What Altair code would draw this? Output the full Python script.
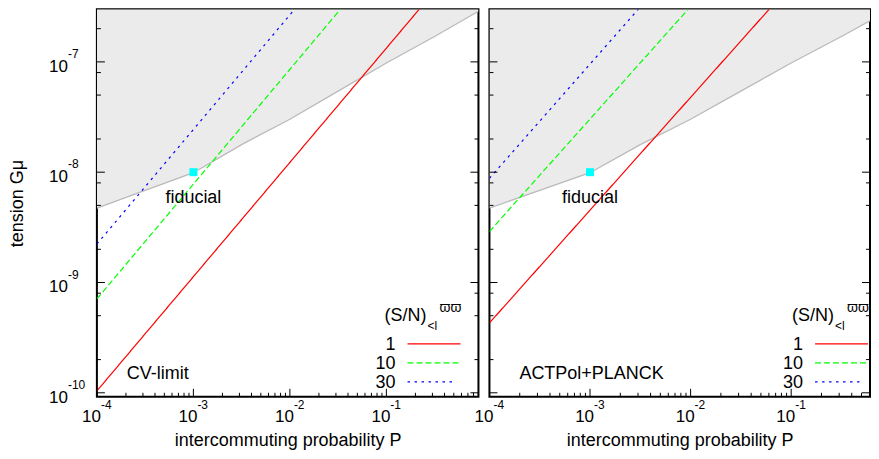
import altair as alt
import pandas as pd

FONT = "Liberation Sans"

# ---------------- data ----------------
series = ["1", "10", "30"]
series_colors = ["#ff0000", "#00ff00", "#0000ff"]
series_dash = [[1, 0], [6, 3], [2.5, 4.5]]

# CV-limit panel: end points of the S/N iso-lines (P, Gmu)
cv_P = {"1": [1e-4, 0.219], "10": [1e-4, 0.0334], "30": [1e-4, 0.0112]}
cv_G = {"1": [1.04e-10, 3e-7], "10": [7.1e-10, 3e-7], "30": [2.23e-9, 3e-7]}
# ACTPol+PLANCK panel
act_P = {"1": [1e-4, 0.0604], "10": [1e-4, 0.00946], "30": [1e-4, 0.00302]}
act_G = {"1": [4.3e-10, 3e-7], "10": [2.9e-9, 3e-7], "30": [8.8e-9, 3e-7]}

# excluded (grey) region boundary
bound_P = [1e-4, 3.16e-4, 1e-3, 3.16e-3, 1e-2, 3.16e-2, 0.1, 0.316, 0.9]
bound_G = [4.73e-9, 6.84e-9, 9.89e-9, 1.78e-8, 3.02e-8, 5.43e-8, 9.77e-8, 1.70e-7, 2.88e-7]

fid_P = [1e-3]
fid_G = [1e-8]
fid_label = ["fiducial"]

panel_labels = ["CV-limit", "ACTPol+PLANCK"]
legend_title = ["(S/N)", "<l", "ϖϖ"]

x_major = [1e-4, 1e-3, 1e-2, 1e-1]
x_base = ["10", "10", "10", "10"]
x_exp = ["-4", "-3", "-2", "-1"]
x_minor = [2e-4, 3e-4, 4e-4, 5e-4, 6e-4, 7e-4, 8e-4, 9e-4,
           2e-3, 3e-3, 4e-3, 5e-3, 6e-3, 7e-3, 8e-3, 9e-3,
           2e-2, 3e-2, 4e-2, 5e-2, 6e-2, 7e-2, 8e-2, 9e-2,
           0.2, 0.3, 0.4, 0.5, 0.6, 0.7, 0.8, 0.9]
y_major = [1e-10, 1e-9, 1e-8, 1e-7]
y_base = ["10", "10", "10", "10"]
y_exp = ["-10", "-9", "-8", "-7"]
y_minor = [2e-10, 5e-10, 8e-10, 2e-9, 5e-9, 8e-9, 2e-8, 5e-8, 8e-8, 2e-7]

XDOM_L = [1e-4, 0.9]
XDOM_R = [1e-4, 0.6075]   # right panel is cut by the page edge
YDOM = [9.2e-11, 3e-7]
H = 388
WL = 382
WR = 381


def panel(W, xdom, lineP, lineG, tag, show_y, lg0):
    xs = alt.Scale(type="log", domain=xdom, nice=False)
    ys = alt.Scale(type="log", domain=YDOM, nice=False)
    xaxis = alt.Axis(title="intercommuting probability P", labels=False, ticks=False,
                     domain=False, grid=False, minExtent=28, maxExtent=28, titlePadding=7)
    yaxis = (alt.Axis(title="tension Gμ", labels=False, ticks=False, domain=False,
                      grid=False, minExtent=60, maxExtent=60, titlePadding=10)
             if show_y else None)
    X = lambda f: alt.X(f, scale=xs, axis=xaxis)
    Y = lambda f: alt.Y(f, scale=ys, axis=yaxis)

    bdf = pd.DataFrame({"P": bound_P, "G": bound_G, "top": [YDOM[1]] * len(bound_P)})
    area = alt.Chart(bdf).mark_area(color="#ebebeb", opacity=1, clip=True).encode(
        x=X("P:Q"), y=Y("G:Q"), y2="top:Q")
    bline = alt.Chart(bdf).mark_line(color="#bababa", strokeWidth=1.3, clip=True).encode(
        x=X("P:Q"), y=Y("G:Q"))

    rows = []
    for s in series:
        for p, g in zip(lineP[s], lineG[s]):
            rows.append({"s": s, "P": p, "G": g})
    ldf = pd.DataFrame(rows)
    lines = alt.Chart(ldf).mark_line(strokeWidth=1.2, clip=True).encode(
        x=X("P:Q"), y=Y("G:Q"),
        color=alt.Color("s:N", scale=alt.Scale(domain=series, range=series_colors), legend=None),
        strokeDash=alt.StrokeDash("s:N", scale=alt.Scale(domain=series, range=series_dash), legend=None),
        detail="s:N")

    fdf = pd.DataFrame({"P": fid_P, "G": fid_G, "t": fid_label})
    fid = alt.Chart(fdf).mark_square(size=64, color="#00ffff", opacity=1).encode(
        x=X("P:Q"), y=Y("G:Q"))
    fidt = alt.Chart(fdf).mark_text(font=FONT, fontSize=18, baseline="alphabetic", dy=31,
                                    color="black").encode(x=X("P:Q"), y=Y("G:Q"), text="t:N")

    tagt = alt.Chart(pd.DataFrame({"t": [tag]})).mark_text(
        font=FONT, fontSize=18, align="left", baseline="alphabetic", color="black").encode(
        x=alt.value(30), y=alt.value(H - 18), text="t:N")

    # ticks (inward)
    ymaj = pd.DataFrame({"v": y_major, "b": y_base, "e": y_exp})
    ymin = pd.DataFrame({"v": y_minor})
    xmaj = pd.DataFrame({"v": x_major, "b": x_base, "e": x_exp})
    xmin = pd.DataFrame({"v": x_minor})
    tk = dict(color="black", strokeWidth=1, clip=True)
    ticks = [
        alt.Chart(ymaj).mark_rule(**tk).encode(y=Y("v:Q"), x=alt.value(0), x2=alt.value(8)),
        alt.Chart(ymaj).mark_rule(**tk).encode(y=Y("v:Q"), x=alt.value(W - 8), x2=alt.value(W)),
        alt.Chart(ymin).mark_rule(**tk).encode(y=Y("v:Q"), x=alt.value(0), x2=alt.value(4)),
        alt.Chart(ymin).mark_rule(**tk).encode(y=Y("v:Q"), x=alt.value(W - 4), x2=alt.value(W)),
        alt.Chart(xmaj).mark_rule(**tk).encode(x=X("v:Q"), y=alt.value(H - 8), y2=alt.value(H)),
        alt.Chart(xmin).mark_rule(**tk).encode(x=X("v:Q"), y=alt.value(H - 4), y2=alt.value(H)),
    ]
    labels = [
        alt.Chart(xmaj).mark_text(font=FONT, fontSize=17, align="right", baseline="alphabetic",
                                  dx=4, color="black").encode(x=X("v:Q"), y=alt.value(H + 25), text="b:N"),
        alt.Chart(xmaj).mark_text(font=FONT, fontSize=12, align="left", baseline="alphabetic",
                                  dx=4, color="black").encode(x=X("v:Q"), y=alt.value(H + 12), text="e:N"),
    ]
    if show_y:
        labels += [
            alt.Chart(ymaj).mark_text(font=FONT, fontSize=17, align="right", baseline="alphabetic",
                                      dy=10, color="black").encode(y=Y("v:Q"), x=alt.value(-29), text="b:N"),
            alt.Chart(ymaj).mark_text(font=FONT, fontSize=12, align="left", baseline="alphabetic",
                                      dy=-4, color="black").encode(y=Y("v:Q"), x=alt.value(-29), text="e:N"),
        ]

    # legend (drawn by hand)
    leg = []
    ly0 = H - 53
    ttl = [(legend_title[0], 18, lg0, ly0 - 23), (legend_title[1], 12, lg0 + 43, ly0 - 14),
           (legend_title[2], 14, lg0 + 55, ly0 - 32)]
    for t, fs, lx, ly in ttl:
        leg.append(alt.Chart(pd.DataFrame({"t": [t]})).mark_text(
            font=FONT, fontSize=fs, align="left", baseline="alphabetic", color="black").encode(
            x=alt.value(lx), y=alt.value(ly), text="t:N"))
    for i, s in enumerate(series):
        ly = ly0 + 19 * i
        leg.append(alt.Chart(pd.DataFrame({"t": [s]})).mark_text(
            font=FONT, fontSize=18, align="right", baseline="alphabetic", color="black").encode(
            x=alt.value(lg0 + 11), y=alt.value(ly + 6), text="t:N"))
        leg.append(alt.Chart(pd.DataFrame({"s": [s]})).mark_rule(
            strokeWidth=1.2, color=series_colors[i], strokeDash=series_dash[i]).encode(
            x=alt.value(lg0 + 23), x2=alt.value(lg0 + 76 - (4 if i == 2 else 0)), y=alt.value(ly)))

    return alt.layer(area, bline, lines, fid, fidt, tagt, *ticks, *labels, *leg).properties(
        width=W, height=H)


left = panel(WL, XDOM_L, cv_P, cv_G, panel_labels[0], True, 288)
right = panel(WR, XDOM_R, act_P, act_G, panel_labels[1], False, 303)

chart = alt.hconcat(left, right, spacing=11, bounds="flush").properties(
    padding={"left": 0, "top": 0, "right": 0, "bottom": 0}
).configure_view(stroke="black", strokeWidth=2).configure_axis(
    titleFont=FONT, titleFontSize=18, titleFontWeight="normal", titleColor="black")

chart.save("out.html", embed_options={"renderer": "svg", "actions": False})
